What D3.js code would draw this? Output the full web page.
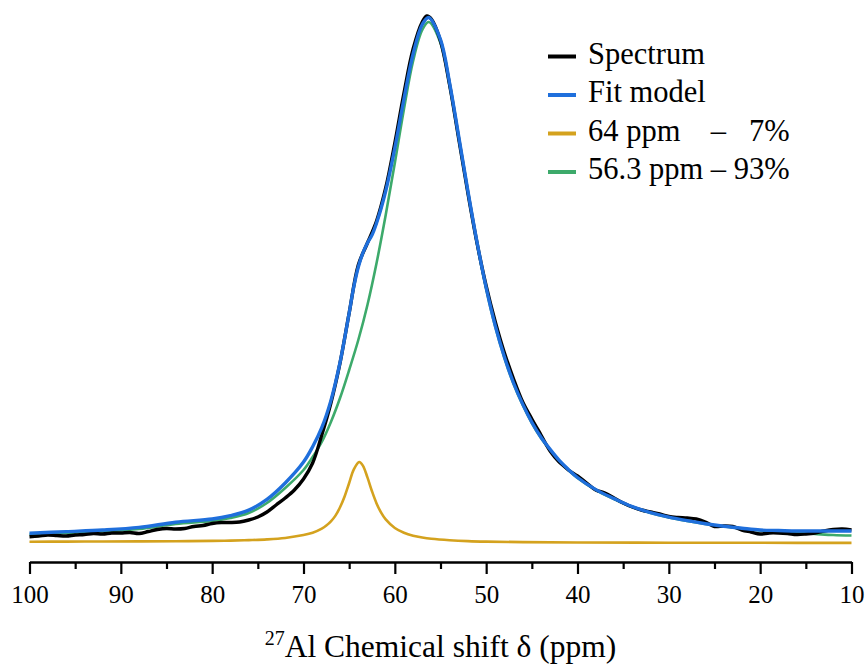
<!DOCTYPE html>
<html>
<head>
<meta charset="utf-8">
<script src="https://cdn.jsdelivr.net/npm/d3@7"></script>
<style>
  html, body { margin: 0; padding: 0; background: #fff; }
  svg { display: block; }
  text { font-family: "Liberation Serif", "Times New Roman", serif; fill: #000; }
</style>
</head>
<body>
<svg id="chart" width="867" height="667"></svg>
<script>
// ---- Data (ppm positions and intensities, arbitrary units) ----
const spectrumPpm = [100,99,98,97,96,95,94,93,92,91,90,89,88,87,86,85,84,83,82,81,80,79,78,77,76,75,74,73,72,71,70,69,68,67,66,65,64,63,62,61,60,59,58,57,56.5,56,55,54,53,52,51,50,49,48,47,46,45,44,43,42,41.5,41,40,39,38,37,36,35,34,33,32,31,30,29,28,27,26,25,24,23,22,21,20,19,18,17,16,15,14,13,12,11,10];
const spectrumVal = [6.3,7,8,7.5,7,8,8.5,9.5,9,10,10,10.5,9.5,11.5,13.5,14.5,14,14.5,16.5,17.5,19.5,20.5,20.5,21,23,26,31,38,45,53,64,80,108,140,180,230,278,300,322,355,400,450,494,521,527,524,502,458,404,350,300,257,221,190,164,141,124,108,92,81,77,73,67,60,53,50,45,40,36,33,31,29,26.5,25.5,25,24,21,16.5,17,16.5,13,11,9,10,10,9.5,8.5,9,10,12,13.5,14,13];

const fitPpm = [100,96,92,88,84,80,78,76,74,72,70,69,68,67,66,65,64.5,64,63.5,63,62.5,62,61,60,59,58,57,56.3,55,54,53,52,51,50,49,48,47,46,45,44,43,42,41,40,38,36,34,32,30,28,26,24,22,20,18,16,14,12,10];
const fitVal = [9.8,11.4,13,15.6,20.8,24,27.4,32.9,43.6,60,80.9,96.2,115.3,142.4,180.6,230,256,276,290,300,308,320,352,395,444,489,518.5,525.5,503.4,459.8,406.3,351.9,300.7,255.4,217.3,186.1,160,138.9,120.8,105.7,93.6,82.6,73.5,65.5,53.4,44.4,36.3,30.3,25.8,22.3,19.3,16.8,14.8,13,12.5,12,12,12,12];

const peak64Ppm = [100,96,92,88,84,80,78,76,74,72,70,69,68,67.5,67,66.5,66,65.5,65,64.5,63.9,63.5,63,62.5,62,61.5,61,60,59,58,57,56,54,52,50,46,40,30,20,10];
const peak64Val = [1.3,1.4,1.5,1.6,1.8,2.1,2.4,2.9,3.6,5,7.9,10.2,14.3,17.4,21.6,27.4,35.7,46.5,60,73.4,81,77.4,65.6,51.7,39.6,30.4,23.6,15,10.2,7.3,5.5,4.25,2.8,1.9,1.4,0.9,0.5,0.3,0.2,0.1];

const peak56Ppm = [100,96,92,88,84,80,78,76,74,72,70,69,68,67,66,65,64,63,62,61,60,59,58,57,56.3,55,54,53,52,51,50,49,48,47,46,45,44,43,42,41,40,38,36,34,32,30,28,26,24,22,20,18,16,14,12,10];
const peak56Val = [8.5,10,11.5,14,19,22,25,30,40,55,73,86,101,121,145,173,203,238,280,328,380,434,482,513,521,500,457,404,350,299,254,216,185,159,138,120,105,93,82,73,65,53,44,36,30,25.5,22,19,16.5,14.5,12.5,11,10,9,8,7.5];

const majorTicks = [100,90,80,70,60,50,40,30,20,10];
const minorTicks = [95,85,75,65,55,45,35,25,15];

const seriesNames = ["Spectrum", "Fit model", "64 ppm", "56.3 ppm"];
const seriesColors = ["#000000", "#1f6fdc", "#d4a21e", "#3daa6b"];

// ---- Scales ----
const svg = d3.select("#chart");
const x = d3.scaleLinear().domain([100, 10]).range([29.5, 851.5]);
const y = d3.scaleLinear().domain([0, 527]).range([543, 16]);

const line = d3.line()
  .x(d => x(d[0]))
  .y(d => y(d[1]))
  .curve(d3.curveCatmullRom.alpha(0.5));

const zip = (a, b) => a.map((v, i) => [v, b[i]]);

// draw order: yellow, green, black, blue
svg.append("path").attr("d", line(zip(peak64Ppm, peak64Val)))
  .attr("fill", "none").attr("stroke", seriesColors[2]).attr("stroke-width", 2.6);
svg.append("path").attr("d", line(zip(peak56Ppm, peak56Val)))
  .attr("fill", "none").attr("stroke", seriesColors[3]).attr("stroke-width", 2.6);
svg.append("path").attr("d", line(zip(spectrumPpm, spectrumVal)))
  .attr("fill", "none").attr("stroke", seriesColors[0]).attr("stroke-width", 3.4).attr("stroke-linejoin", "round");
svg.append("path").attr("d", line(zip(fitPpm, fitVal)))
  .attr("fill", "none").attr("stroke", seriesColors[1]).attr("stroke-width", 3.4);

// ---- Axis ----
const axisY = 562;
const gx = svg.append("g").attr("transform", `translate(0,${axisY})`)
  .call(d3.axisBottom(x).tickValues(majorTicks).tickSize(12).tickSizeOuter(0).tickFormat(d3.format("d")));
gx.select(".domain").attr("stroke", "#000").attr("stroke-width", 2.4);
gx.selectAll(".tick line").attr("stroke", "#000").attr("stroke-width", 2.2);
gx.selectAll(".tick text")
  .attr("y", 41).attr("dy", 0)
  .style("font-family", "'Liberation Serif', serif")
  .style("font-size", "25px").attr("fill", "#000");

const gMinor = svg.append("g").attr("transform", `translate(0,${axisY})`)
  .call(d3.axisBottom(x).tickValues(minorTicks).tickSize(7).tickFormat(""));
gMinor.select(".domain").remove();
gMinor.selectAll(".tick line").attr("stroke", "#000").attr("stroke-width", 2.2);

// axis title
const title = svg.append("text")
  .attr("x", (x(100) + x(10)) / 2)
  .attr("y", 657)
  .attr("text-anchor", "middle")
  .style("font-size", "31.5px");
title.append("tspan").text("27").style("font-size", "20px").attr("dy", -12);
title.append("tspan").text("Al Chemical shift \u03b4 (ppm)").attr("dy", 12);

// ---- Legend ----
const legendX = 548, legendTextX = 588;
const rowLineY = [56.5, 95, 133.5, 172];
const legend = svg.append("g");
seriesNames.forEach((n, i) => {
  legend.append("line")
    .attr("x1", legendX).attr("x2", legendX + 28)
    .attr("y1", rowLineY[i]).attr("y2", rowLineY[i])
    .attr("stroke", seriesColors[i]).attr("stroke-width", 4);
});
const fs = "30.5px";
const off = 7;
legend.append("text").attr("x", legendTextX).attr("y", rowLineY[0] + off).style("font-size", fs).text("Spectrum");
legend.append("text").attr("x", legendTextX).attr("y", rowLineY[1] + off).style("font-size", fs).text("Fit model");
const row4 = legend.append("text").attr("x", legendTextX).attr("y", rowLineY[3] + off).style("font-size", fs)
  .text("56.3 ppm \u2013 93%");
const node4 = row4.node();
const full = node4.getComputedTextLength();
const prefix = node4.getSubStringLength(0, 9); // "56.3 ppm "
legend.append("text").attr("x", legendTextX).attr("y", rowLineY[2] + off).style("font-size", fs).text("64 ppm");
legend.append("text").attr("x", legendTextX + prefix).attr("y", rowLineY[2] + off).style("font-size", fs).text("\u2013");
legend.append("text").attr("x", legendTextX + full).attr("y", rowLineY[2] + off).attr("text-anchor", "end").style("font-size", fs).text("7%");
</script>
</body>
</html>
